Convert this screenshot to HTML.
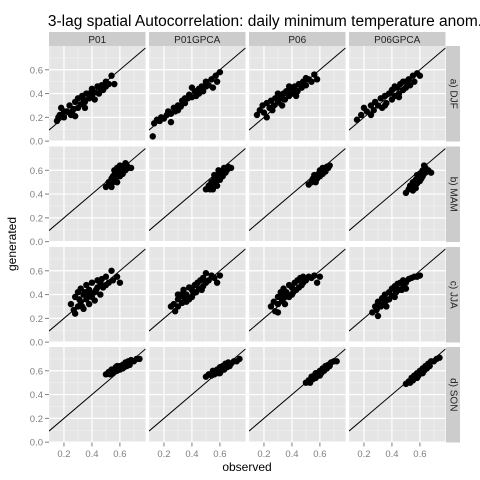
<!DOCTYPE html>
<html><head><meta charset="utf-8"><style>
body{margin:0;background:#fff}
svg{display:block;font-family:"Liberation Sans",sans-serif}
</style></head><body>
<svg id="c" width="480" height="480"></svg>
<script>
const colLabels=["P01","P01GPCA","P06","P06GPCA"];
const rowLabels=["a) DJF","b) MAM","c) JJA","d) SON"];
const xTicks=[0.2,0.4,0.6];
const yTicks=[0.0,0.2,0.4,0.6];
const djfP01=[[.15,.17],[.17,.22],[.18,.28],[.2,.2],[.22,.25],[.24,.3],[.25,.22],[.27,.27],[.28,.33],[.3,.28],[.3,.36],[.32,.31],[.33,.38],[.35,.33],[.36,.4],[.38,.36],[.4,.38],[.4,.44],[.42,.41],[.44,.46],[.45,.4],[.47,.47],[.48,.43],[.5,.5],[.52,.48],[.54,.55],[.56,.48],[.28,.21],[.35,.28],[.42,.35],[.2,.25],[.26,.25],[.34,.35],[.46,.44],[.5,.46],[.38,.4],[.16,.2]];
const djfP01G=[[.13,.15],[.15,.18],[.17,.17],[.18,.2],[.2,.19],[.22,.22],[.23,.25],[.25,.23],[.27,.28],[.28,.25],[.3,.3],[.32,.29],[.33,.34],[.35,.32],[.37,.36],[.38,.39],[.4,.37],[.42,.42],[.43,.38],[.45,.44],[.47,.46],[.48,.42],[.5,.5],[.52,.47],[.54,.52],[.55,.45],[.57,.55],[.58,.5],[.6,.58],[.25,.16],[.12,.04],[.4,.45],[.3,.26],[.35,.36],[.45,.4],[.5,.46]];
const djfP06=[[.15,.22],[.17,.26],[.19,.3],[.2,.24],[.22,.32],[.24,.28],[.25,.34],[.27,.3],[.28,.36],[.3,.33],[.3,.4],[.32,.36],[.34,.4],[.35,.35],[.36,.42],[.38,.38],[.4,.44],[.4,.4],[.42,.46],[.44,.42],[.45,.48],[.47,.45],[.48,.5],[.5,.47],[.52,.52],[.54,.5],[.56,.56],[.58,.52],[.33,.3],[.26,.26],[.22,.2],[.43,.38],[.5,.53],[.38,.46]];
const djfP06G=[[.15,.18],[.18,.22],[.2,.28],[.22,.25],[.25,.3],[.27,.26],[.28,.33],[.3,.3],[.32,.36],[.33,.28],[.35,.38],[.36,.32],[.38,.4],[.4,.35],[.4,.43],[.42,.38],[.44,.45],[.45,.4],[.46,.48],[.48,.43],[.5,.5],[.5,.45],[.52,.52],[.53,.47],[.55,.55],[.56,.5],[.58,.57],[.6,.55],[.25,.22],[.35,.3],[.45,.37],[.42,.46],[.48,.5]];
const mamP01=[[.5,.46],[.52,.5],[.53,.48],[.54,.53],[.55,.5],[.56,.56],[.57,.53],[.58,.58],[.58,.5],[.6,.6],[.6,.55],[.62,.62],[.62,.57],[.63,.64],[.64,.6],[.65,.64],[.66,.62],[.68,.62],[.56,.6],[.6,.64],[.54,.46],[.58,.62],[.61,.58],[.55,.55],[.64,.66]];
const mamP01G=[[.5,.44],[.52,.47],[.53,.44],[.54,.5],[.55,.47],[.56,.53],[.57,.5],[.58,.55],[.58,.47],[.6,.58],[.6,.52],[.62,.6],[.62,.55],[.63,.62],[.64,.58],[.66,.63],[.68,.62],[.56,.56],[.59,.6],[.55,.44],[.61,.56],[.65,.6]];
const mamP06=[[.52,.48],[.54,.5],[.55,.53],[.56,.51],[.57,.55],[.58,.53],[.59,.57],[.6,.55],[.61,.59],[.62,.57],[.63,.61],[.64,.59],[.65,.63],[.66,.62],[.67,.64],[.57,.5],[.6,.6],[.62,.62],[.56,.56]];
const mamP06G=[[.5,.41],[.52,.44],[.53,.47],[.54,.45],[.55,.5],[.56,.47],[.57,.52],[.58,.49],[.59,.55],[.6,.51],[.6,.57],[.62,.55],[.62,.6],[.64,.58],[.64,.62],[.66,.6],[.68,.58],[.55,.43],[.58,.56],[.61,.53],[.63,.64],[.57,.45]];
const jjaP01=[[.25,.32],[.27,.27],[.28,.38],[.3,.3],[.3,.42],[.32,.34],[.32,.45],[.34,.28],[.34,.4],[.36,.36],[.36,.48],[.38,.32],[.38,.44],[.4,.38],[.4,.5],[.42,.42],[.42,.35],[.44,.46],[.44,.52],[.46,.4],[.46,.5],[.48,.46],[.5,.55],[.5,.48],[.52,.5],[.54,.6],[.55,.52],[.58,.55],[.6,.5],[.28,.24],[.31,.36],[.35,.42],[.39,.4],[.43,.44],[.47,.53],[.33,.3],[.37,.38]];
const jjaP01G=[[.25,.3],[.27,.32],[.28,.26],[.3,.36],[.3,.3],[.32,.4],[.33,.33],[.34,.44],[.35,.36],[.36,.4],[.38,.46],[.38,.36],[.4,.44],[.4,.38],[.42,.48],[.43,.42],[.44,.5],[.45,.45],[.46,.52],[.47,.44],[.48,.54],[.5,.5],[.5,.58],[.52,.52],[.54,.56],[.56,.54],[.58,.5],[.6,.56],[.3,.4],[.36,.34],[.41,.41],[.48,.47],[.34,.38]];
const jjaP06=[[.25,.3],[.27,.34],[.28,.26],[.3,.38],[.3,.32],[.32,.42],[.33,.35],[.34,.45],[.35,.38],[.36,.42],[.38,.48],[.38,.38],[.4,.46],[.4,.4],[.42,.5],[.43,.44],[.44,.52],[.45,.46],[.46,.54],[.48,.5],[.48,.55],[.5,.52],[.52,.55],[.54,.54],[.56,.56],[.58,.5],[.6,.55],[.3,.25],[.35,.32],[.41,.42],[.47,.48],[.33,.4]];
const jjaP06G=[[.26,.25],[.28,.3],[.29,.27],[.3,.34],[.32,.3],[.33,.37],[.34,.32],[.35,.4],[.36,.35],[.38,.42],[.38,.36],[.4,.45],[.4,.39],[.42,.47],[.43,.42],[.44,.49],[.45,.44],[.46,.5],[.48,.46],[.48,.52],[.5,.5],[.52,.53],[.54,.54],[.56,.55],[.58,.55],[.6,.56],[.3,.22],[.36,.3],[.42,.38],[.47,.44],[.34,.36],[.5,.45]];
const sonP01=[[.5,.57],[.52,.59],[.53,.57],[.54,.61],[.56,.6],[.57,.63],[.58,.6],[.6,.64],[.6,.61],[.62,.65],[.63,.63],[.64,.67],[.65,.64],[.66,.68],[.67,.65],[.68,.69],[.7,.68],[.72,.7],[.74,.7],[.58,.64],[.55,.58],[.62,.62]];
const sonP01G=[[.5,.55],[.52,.57],[.54,.56],[.55,.6],[.56,.57],[.58,.61],[.59,.58],[.6,.63],[.61,.6],[.62,.64],[.63,.61],[.64,.66],[.65,.63],[.66,.67],[.68,.66],[.7,.68],[.72,.68],[.74,.7],[.57,.59],[.6,.58],[.67,.64]];
const sonP06=[[.5,.5],[.52,.52],[.53,.5],[.54,.55],[.55,.53],[.56,.56],[.57,.54],[.58,.58],[.59,.56],[.6,.6],[.61,.58],[.62,.62],[.63,.6],[.64,.64],[.65,.62],[.66,.65],[.67,.64],[.68,.67],[.7,.68],[.72,.68],[.57,.58],[.6,.56]];
const sonP06G=[[.5,.49],[.52,.51],[.53,.5],[.54,.54],[.55,.52],[.56,.56],[.57,.54],[.58,.58],[.59,.56],[.6,.6],[.61,.58],[.62,.62],[.63,.6],[.64,.64],[.65,.62],[.66,.66],[.67,.64],[.68,.68],[.7,.68],[.72,.7],[.74,.71],[.58,.54],[.62,.58]];
const panels=[[djfP01,djfP01G,djfP06,djfP06G],[mamP01,mamP01G,mamP06,mamP06G],[jjaP01,jjaP01G,jjaP06,jjaP06G],[sonP01,sonP01G,sonP06,sonP06G]];

const NS="http://www.w3.org/2000/svg",svg=document.getElementById('c');
function mk(t,a,p){const e=document.createElementNS(NS,t);for(const k in a)e.setAttribute(k,a[k]);(p||svg).appendChild(e);return e;}
const colX=[49,149,249,349],PW=96.5,rowY=[46,146.5,247,347],PH=95.5;
const xMin=0.093,xMax=0.783,yMin=-0.003,yMax=0.80;
function sx(c,v){return colX[c]+(v-xMin)/(xMax-xMin)*PW;}
function sy(r,v){return rowY[r]+PH-(v-yMin)/(yMax-yMin)*PH;}
let t=mk('text',{x:265,y:26,'text-anchor':'middle','font-size':15.5,fill:'#000'});t.textContent="3-lag spatial Autocorrelation: daily minimum temperature anom.";

for(let c=0;c<4;c++){
  const g=mk('g',{});
  mk('rect',{x:colX[c],y:32,width:PW,height:14,fill:'#cccccc'},g);
  const s=mk('text',{x:colX[c]+PW/2,y:43,'text-anchor':'middle','font-size':10,fill:'#222'},g);s.textContent=colLabels[c];
}
for(let r=0;r<4;r++){
  const g=mk('g',{});
  mk('rect',{x:446,y:rowY[r],width:14,height:PH,fill:'#cccccc'},g);
  const cy=rowY[r]+PH/2;
  const s=mk('text',{x:453,y:cy,'text-anchor':'middle','dominant-baseline':'central','font-size':10,fill:'#222',transform:`rotate(90 453 ${cy})`},g);s.textContent=rowLabels[r];
}
for(let r=0;r<4;r++)for(let c=0;c<4;c++){
  const g=mk('g',{});
  mk('rect',{x:colX[c],y:rowY[r],width:PW,height:PH,fill:'#e5e5e5'},g);
  for(let v=0.1;v<0.8;v+=0.2){mk('line',{x1:sx(c,v),x2:sx(c,v),y1:rowY[r],y2:rowY[r]+PH,stroke:'#f2f2f2','stroke-width':0.6},g);}
  for(let v=0.1;v<0.8;v+=0.2){mk('line',{y1:sy(r,v),y2:sy(r,v),x1:colX[c],x2:colX[c]+PW,stroke:'#f2f2f2','stroke-width':0.6},g);}
  xTicks.forEach(v=>mk('line',{x1:sx(c,v),x2:sx(c,v),y1:rowY[r],y2:rowY[r]+PH,stroke:'#fff','stroke-width':1.2},g));
  yTicks.forEach(v=>mk('line',{y1:sy(r,v),y2:sy(r,v),x1:colX[c],x2:colX[c]+PW,stroke:'#fff','stroke-width':1.2},g));
  const clip=mk('clipPath',{id:'cp'+r+c},g);mk('rect',{x:colX[c],y:rowY[r],width:PW,height:PH},clip);
  const pg=mk('g',{'clip-path':`url(#cp${r}${c})`},g);
  mk('line',{x1:sx(c,xMin),y1:sy(r,xMin),x2:sx(c,xMax),y2:sy(r,xMax),stroke:'#000','stroke-width':1},pg);
  panels[r][c].forEach(p=>{const e=mk('circle',{cx:sx(c,p[0]),cy:sy(r,p[1]),r:3.2,fill:'#000'},pg);
    
    });
}
for(let r=0;r<4;r++)yTicks.forEach(v=>{const y=sy(r,v);mk('line',{x1:45,x2:49,y1:y,y2:y,stroke:'#7f7f7f'});
  const e=mk('text',{x:43,y:y+3.5,'text-anchor':'end','font-size':9.5,fill:'#7f7f7f'});e.textContent=v.toFixed(1);
  });
for(let c=0;c<4;c++)xTicks.forEach(v=>{const x=sx(c,v);mk('line',{x1:x,x2:x,y1:442.5,y2:446.5,stroke:'#7f7f7f'});
  const e=mk('text',{x:x,y:457,'text-anchor':'middle','font-size':9.5,fill:'#7f7f7f'});e.textContent=v.toFixed(1);
  });
t=mk('text',{x:247,y:471,'text-anchor':'middle','font-size':12,fill:'#000'});t.textContent="observed";

t=mk('text',{x:16,y:244,'text-anchor':'middle','font-size':12,fill:'#000',transform:'rotate(-90 16 244)'});t.textContent="generated";

</script>
</body></html>
